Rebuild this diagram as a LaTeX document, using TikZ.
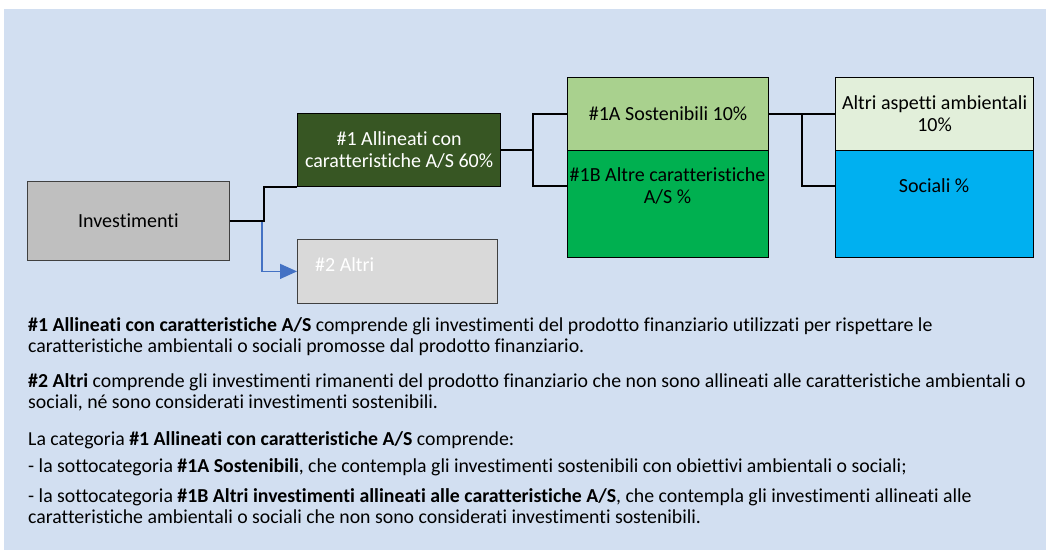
\documentclass[tikz,border=0pt]{standalone}
\usepackage{fontspec}
\setmainfont{Carlito}[RawFeature=-liga]
\usepackage{tikz}
\usetikzlibrary{arrows.meta}

\definecolor{sfondo}{HTML}{D2DFF1}
\definecolor{grigioinv}{HTML}{BFBFBF}
\definecolor{grigioaltri}{HTML}{D9D9D9}
\definecolor{bordo}{HTML}{404040}
\definecolor{verdescuro}{HTML}{375623}
\definecolor{verdechiaro}{HTML}{A9D18E}
\definecolor{verdeacceso}{HTML}{00B050}
\definecolor{verdepallido}{HTML}{E2EFDA}
\definecolor{azzurro}{HTML}{00B0F0}
\definecolor{bluefreccia}{HTML}{4472C4}

\tikzset{
  box/.style={draw=black, line width=1.2pt, anchor=north west, inner sep=0pt,
    font=\fontsize{20}{22}\selectfont, align=center},
  greybox/.style={box, draw=bordo, line width=0.8pt},
  conn/.style={draw=black, line width=2pt},
  bluearrow/.style={draw=bluefreccia, line width=1.5pt, -{Triangle[length=17pt,width=15pt]}},
  bodytext/.style={anchor=west, inner sep=0pt, align=left,
    font=\fontsize{19.8}{21}\selectfont}
}

\begin{document}
\begin{tikzpicture}[x=1pt,y=-1pt]
\useasboundingbox (0,0) rectangle (1046,550);
\fill[sfondo] (4,9) rectangle (1046,550);

% boxes
\node[greybox, fill=grigioinv, minimum width=202pt, minimum height=79pt] (inv) at (27,181) {Investimenti};
\node[box, fill=verdescuro, text=white, minimum width=203pt, minimum height=73pt] (all) at (297,113) {\#1 Allineati con\\caratteristiche A/S 60\%};
\node[greybox, fill=grigioaltri, minimum width=200pt, minimum height=64pt] (alt) at (297,239) {};
\node[anchor=west, inner sep=0pt, text=white, font=\fontsize{20}{22}\selectfont] (altt) at (315,265) {\#2 Altri};
\node[box, fill=verdechiaro, minimum width=201pt, minimum height=73pt] (sos) at (567,77) {\#1A Sostenibili 10\%};
\node[box, fill=verdeacceso, minimum width=201pt, minimum height=107pt] (acs) at (567,150) {};
\node[box, draw=none, anchor=center] (acst) at (667.5,186) {\#1B Altre caratteristiche\\A/S \%};
\node[box, fill=verdepallido, minimum width=198pt, minimum height=73pt] (amb) at (835,77) {Altri aspetti ambientali\\10\%};
\node[box, fill=azzurro, minimum width=198pt, minimum height=107pt] (soc) at (835,150) {};
\node[box, draw=none, anchor=center] (soct) at (934,186) {Sociali \%};

% connectors
\draw[bluearrow] (inv.east) -- ++(32,0) |- (alt.west);
\draw[conn] (inv.east) -- ++(34,0) |- (all.south west);
\draw[conn] (all.east) -- ++(33,0);
\draw[conn] (sos.west) -- ++(-34,0) |- (acs.west |- acst);
\draw[conn] (sos.east) -- (amb.west);
\draw[conn] (amb.west) -- ++(-33,0) |- (soc.west |- soct);

% testo
\node[bodytext] (p1) at (28,336.5) {\textbf{\#1 Allineati con caratteristiche A/S} comprende gli investimenti del prodotto finanziario utilizzati per rispettare le\\caratteristiche ambientali o sociali promosse dal prodotto finanziario.};
\node[bodytext] (p2) at (28,392.5) {\textbf{\#2 Altri} comprende gli investimenti rimanenti del prodotto finanziario che non sono allineati alle caratteristiche ambientali o\\sociali, né sono considerati investimenti sostenibili.};
\node[bodytext] (p3) at (28,440) {La categoria \textbf{\#1 Allineati con caratteristiche A/S} comprende:};
\node[bodytext] (p4) at (28,467) {- la sottocategoria \textbf{\#1A Sostenibili}, che contempla gli investimenti sostenibili con obiettivi ambientali o sociali;};
\node[bodytext] (p5) at (28,506.5) {- la sottocategoria \textbf{\#1B Altri investimenti allineati alle caratteristiche A/S}, che contempla gli investimenti allineati alle\\caratteristiche ambientali o sociali che non sono considerati investimenti sostenibili.};
\end{tikzpicture}
\end{document}
